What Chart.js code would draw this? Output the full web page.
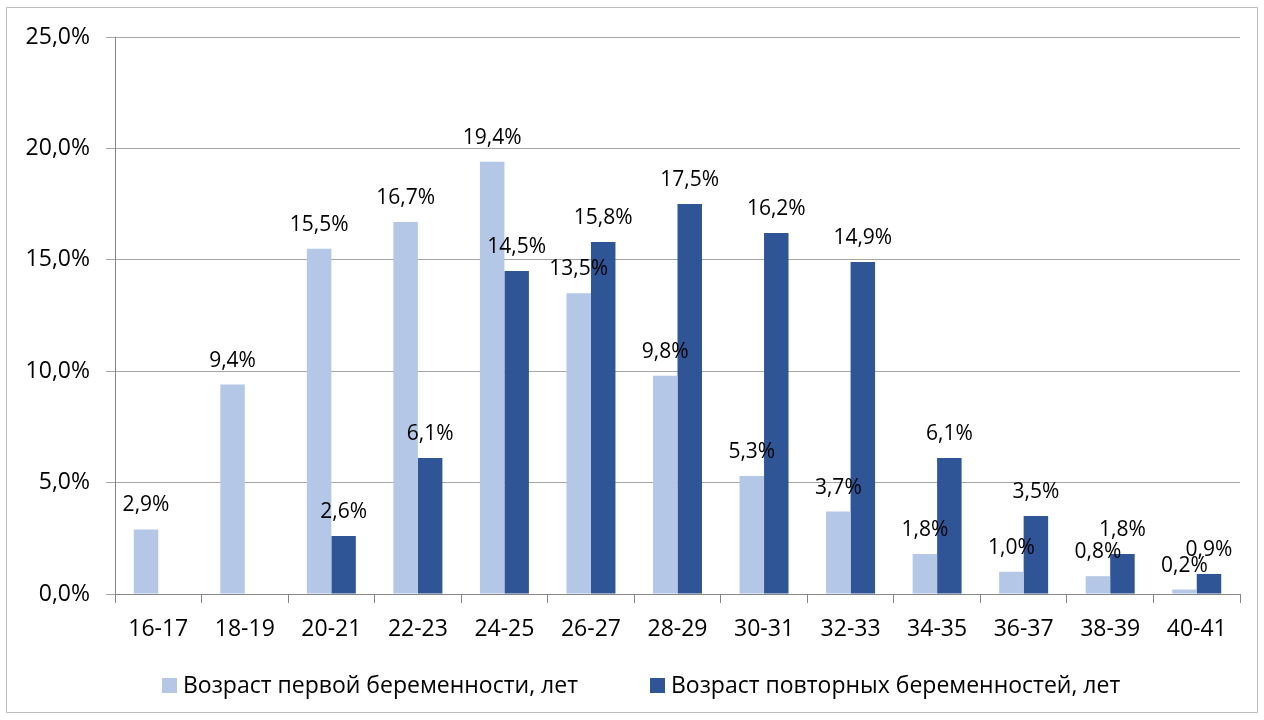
<!DOCTYPE html>
<html><head><meta charset="utf-8">
<script src="https://cdn.jsdelivr.net/npm/chart.js@4"></script>
<style>html,body{margin:0;padding:0;background:#fff}#wrap{width:1264px;height:720px}</style>
</head><body><div id="wrap"><canvas id="c" width="1264" height="720"></canvas></div>
<script>
const categories = ["16-17","18-19","20-21","22-23","24-25","26-27","28-29","30-31","32-33","34-35","36-37","38-39","40-41"];
const firstPregnancy = [2.9, 9.4, 15.5, 16.7, 19.4, 13.5, 9.8, 5.3, 3.7, 1.8, 1.0, 0.8, 0.2];
const repeatPregnancy = [null, null, 2.6, 6.1, 14.5, 15.8, 17.5, 16.2, 14.9, 6.1, 3.5, 1.8, 0.9];
const seriesNames = ["Возраст первой беременности, лет", "Возраст повторных беременностей, лет"];
const yTicks = [0, 5, 10, 15, 20, 25];

const FONT = "'Open Sans'";
const fmt = v => v.toFixed(1).replace('.', ',') + '%';

const framePlugin = {
  id: 'frame',
  beforeDraw(chart) {
    const ctx = chart.ctx;
    ctx.save();
    ctx.fillStyle = '#fff';
    ctx.fillRect(0, 0, chart.width, chart.height);
    ctx.strokeStyle = '#bfbfbf';
    ctx.lineWidth = 1;
    ctx.strokeRect(6.5, 7.5, 1251, 705);
    ctx.restore();
  },
  afterDatasetsDraw(chart) {
    const ctx = chart.ctx;
    ctx.save();
    ctx.font = '21px ' + FONT;
    ctx.fillStyle = '#000';
    ctx.textAlign = 'center';
    ctx.textBaseline = 'middle';
    chart.data.datasets.forEach((ds, i) => {
      const meta = chart.getDatasetMeta(i);
      meta.data.forEach((el, j) => {
        const v = ds.data[j];
        if (v === null || v === undefined) return;
        ctx.fillText(fmt(v), el.x, el.y - 24);
      });
    });
    ctx.restore();
  },
  afterDraw(chart) {
    const ctx = chart.ctx;
    ctx.save();
    ctx.font = '23px ' + FONT;
    ctx.textBaseline = 'middle';
    ctx.textAlign = 'left';
    const items = [[162, 183], [650, 671]];
    chart.data.datasets.forEach((ds, i) => {
      ctx.fillStyle = ds.backgroundColor;
      ctx.fillRect(items[i][0], 678, 15, 15);
      ctx.fillStyle = '#000';
      ctx.fillText(ds.label, items[i][1], 686);
    });
    ctx.restore();
  }
};

new Chart(document.getElementById('c'), {
  type: 'bar',
  data: {
    labels: categories,
    datasets: [
      { label: seriesNames[0], data: firstPregnancy, backgroundColor: '#b4c7e7' },
      { label: seriesNames[1], data: repeatPregnancy, backgroundColor: '#2f5597' }
    ]
  },
  options: {
    responsive: false,
    animation: false,
    devicePixelRatio: 1,
    categoryPercentage: 0.566,
    barPercentage: 1,
    layout: { padding: { left: 0, right: 24, top: 37, bottom: 76 } },
    plugins: { legend: { display: false }, tooltip: { enabled: false } },
    scales: {
      x: {
        grid: { display: true, drawOnChartArea: false, drawTicks: true, tickLength: 9, color: '#868686', offset: true },
        border: { color: '#868686' },
        ticks: { color: '#000', font: { family: FONT, size: 23 }, padding: 13, maxRotation: 0 },
        afterFit(s) { s.height = 50; }
      },
      y: {
        min: 0, max: 25,
        afterBuildTicks(s) { s.ticks = yTicks.map(v => ({ value: v })); },
        grid: { color: '#a6a6a6', tickLength: 9 },
        border: { color: '#868686' },
        ticks: { color: '#000', font: { family: FONT, size: 23 }, padding: 16, callback: v => fmt(v) },
        afterFit(s) { s.width = 115; }
      }
    }
  },
  plugins: [framePlugin]
});
</script>
</body></html>
